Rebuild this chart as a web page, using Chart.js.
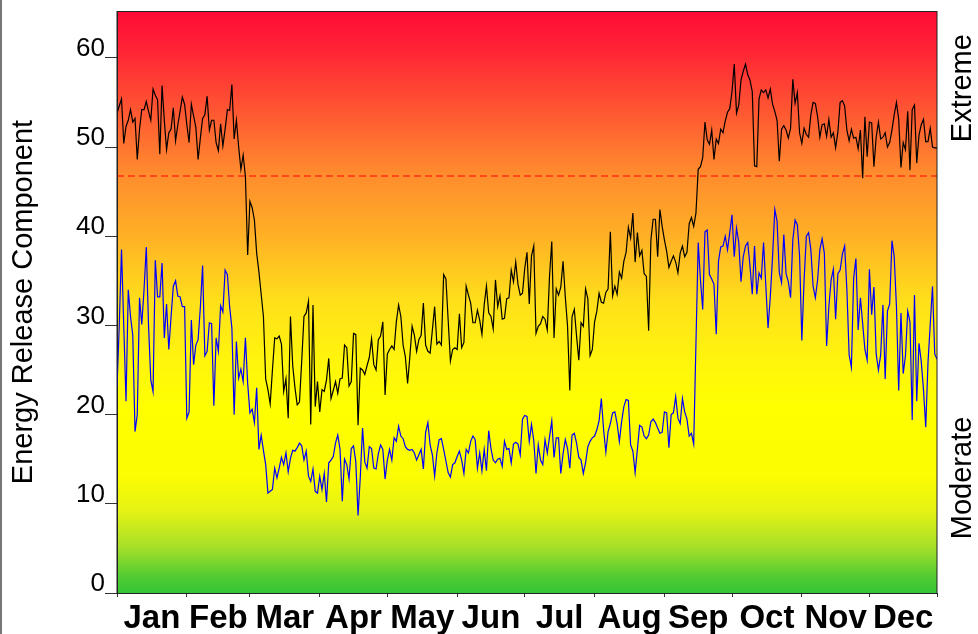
<!DOCTYPE html>
<html>
<head>
<meta charset="utf-8">
<script src="https://cdn.jsdelivr.net/npm/chart.js@4/dist/chart.umd.min.js"></script>
<style>
html,body{margin:0;padding:0;background:#fff;}
canvas{display:block;}
</style>
</head>
<body>
<canvas id="c" width="978" height="634"></canvas>
<script>
// ---------- data ----------
const monthNames = ['Jan','Feb','Mar','Apr','May','Jun','Jul','Aug','Sep','Oct','Nov','Dec'];
const monthStartDays = [0,31,59,90,120,151,181,212,243,273,304,334,364];
const yTickValues = [0,10,20,30,40,50,60];
const extremeThreshold = 46.75;
const zoneLabels = ['Extreme','Moderate'];
const zoneLabelValues = [56.6, 12.9];

// black line (daily ERC, day 0 = Jan 1)
const ercBlack = [
53.8,54.6,55.4,50.4,52.3,53.0,54.2,52.8,53.2,48.6,
52.0,54.2,54.2,55.1,54.0,53.0,56.5,55.8,55.3,49.2,
56.9,53.0,49.7,51.6,52.0,54.4,50.7,52.5,54.0,55.6,
54.8,52.5,50.5,54.8,53.5,52.2,48.6,51.0,53.2,53.6,
55.7,51.9,53.0,53.0,50.5,49.6,52.6,50.1,52.0,54.2,
54.1,57.0,50.9,53.0,50.0,47.5,49.1,46.7,37.9,43.9,
43.2,41.8,38.1,36.0,33.5,31.0,24.0,22.8,21.2,25.0,
28.6,28.5,28.8,27.9,22.6,24.0,19.6,31.0,25.5,23.0,
21.1,21.4,26.0,31.0,31.4,32.7,18.9,32.3,20.9,23.7,
20.3,22.8,22.6,23.9,26.3,21.8,22.7,23.7,22.4,24.0,
24.1,27.8,27.5,23.2,23.7,29.1,29.0,18.8,25.2,25.0,
24.5,25.5,26.4,28.5,25.6,25.0,28.4,28.8,30.4,22.2,
26.8,27.3,27.7,27.3,30.4,32.3,31.0,27.8,26.5,23.5,
26.5,29.9,28.9,27.1,28.4,28.9,32.5,27.8,27.1,26.9,
29.5,32.1,27.9,28.2,27.8,35.7,35.2,30.6,26.0,27.3,
27.5,27.3,31.3,27.5,28.1,34.4,33.4,32.5,30.3,30.3,
31.7,30.6,29.0,32.3,34.4,31.4,31.0,29.6,35.1,32.1,
33.3,30.7,30.8,33.0,33.1,36.2,34.9,37.1,34.6,33.4,
33.6,36.4,38.2,32.4,37.8,38.9,29.1,29.9,30.2,31.0,
30.7,29.5,35.5,39.4,28.6,34.1,33.4,34.3,37.2,33.2,
29.9,22.7,31.0,31.8,28.8,26.1,30.3,29.9,34.1,33.0,
26.6,27.3,30.4,31.6,33.6,32.6,32.5,33.7,34.1,40.5,
33.3,34.4,33.5,36.0,35.3,37.2,38.2,41.0,39.8,42.6,
37.1,40.4,37.8,38.4,35.8,35.5,29.4,39.6,41.9,41.9,
37.7,43.0,41.1,39.6,38.3,36.5,37.2,37.8,37.1,35.9,
38.1,38.9,37.7,38.2,41.4,42.1,41.1,42.6,47.5,47.8,
48.8,52.8,50.8,50.3,51.9,48.6,50.9,50.4,52.0,51.6,
52.9,53.9,54.3,56.2,59.3,53.8,54.7,57.5,58.5,59.3,
58.1,57.5,56.2,47.9,47.8,55.4,56.4,56.1,56.4,55.5,
56.5,54.8,54.0,53.0,48.4,52.0,52.4,51.9,51.0,52.1,
57.6,54.9,56.1,51.6,50.4,52.1,51.4,51.1,53.6,55.0,
54.9,53.4,51.1,52.5,52.6,51.2,53.1,51.1,51.6,49.9,
51.7,55.0,55.2,54.6,51.9,50.7,52.0,51.0,51.1,49.8,
51.9,46.5,53.4,48.9,52.8,52.7,47.8,51.1,52.8,50.9,
51.1,51.6,50.0,50.5,51.9,53.6,55.0,53.1,47.7,50.5,
49.7,54.0,47.4,54.2,54.7,48.2,51.3,52.5,53.1,50.6,
50.6,52.1,50.0,49.9,49.9
];

// blue line (daily ERC, day 0 = Jan 1)
const ercBlue = [
23.1,30.0,38.5,30.0,21.5,34.0,31.0,28.9,18.1,20.0,
33.1,30.1,34.0,38.8,30.0,23.9,22.6,37.3,33.2,33.2,
37.0,28.6,32.4,27.3,31.0,34.4,35.0,33.3,33.2,32.1,
32.1,19.6,20.3,30.6,25.6,27.8,28.4,32.0,36.7,26.6,
27.1,30.3,30.2,21.0,28.6,27.1,32.2,31.5,36.2,35.7,
32.1,29.7,20.0,28.2,24.1,25.1,23.7,28.6,23.5,20.2,
20.6,19.1,23.0,16.1,17.7,16.0,14.4,11.2,11.4,11.6,
14.0,12.9,14.0,15.2,14.4,15.7,13.6,15.1,16.0,15.9,
16.3,16.8,16.5,14.9,15.9,13.1,12.5,13.9,11.4,11.2,
13.1,11.6,13.4,10.2,14.6,14.9,15.3,16.8,17.7,16.1,
10.3,15.0,14.4,12.8,16.2,16.5,14.7,8.7,13.0,18.5,
14.7,14.0,16.4,16.2,14.0,13.9,15.6,16.6,16.1,12.8,
14.9,16.1,14.9,17.4,17.0,18.7,17.6,17.3,16.4,16.1,
16.0,16.1,15.7,14.9,15.5,16.1,13.9,18.0,19.1,16.6,
15.5,13.1,15.7,17.2,17.3,16.1,14.8,13.5,13.0,14.4,
14.6,15.3,15.9,14.9,13.4,16.1,15.7,17.0,17.6,17.2,
14.0,15.7,13.7,16.1,13.7,18.2,16.2,14.9,14.6,15.0,
15.1,14.2,17.0,16.1,16.2,14.6,16.7,16.9,16.7,15.5,
19.5,19.9,19.8,17.0,18.9,17.1,13.4,16.6,14.9,14.4,
17.2,15.7,17.5,19.3,15.2,17.4,17.4,13.4,15.6,17.2,
16.2,14.0,17.7,17.9,16.8,15.2,14.9,13.4,14.6,16.4,
17.0,17.4,17.6,18.3,19.3,21.8,18.3,15.8,18.1,19.0,
20.2,20.3,19.0,17.0,19.2,20.9,21.7,21.6,16.6,15.9,
13.5,16.1,18.8,18.6,17.6,17.3,17.7,19.2,19.5,19.1,
18.5,17.9,18.0,20.3,20.2,16.3,20.0,20.2,22.0,19.6,
19.0,21.8,20.3,19.5,17.6,17.9,16.7,28.0,39.3,35.1,
31.8,40.5,40.7,35.7,35.2,34.6,29.0,37.2,38.8,38.9,
40.0,38.5,40.4,42.4,37.7,40.9,39.3,34.9,37.7,38.9,
39.3,36.6,33.5,38.9,33.5,35.9,35.3,39.3,34.5,29.7,
33.2,37.7,43.0,41.7,35.9,34.8,40.2,35.8,34.9,33.1,
39.6,41.8,41.3,37.8,28.3,35.1,40.0,40.4,38.5,34.4,
33.1,35.1,38.5,39.7,38.1,27.7,32.1,35.1,36.3,30.7,
35.8,36.2,38.0,38.9,34.0,26.7,25.3,35.3,37.5,29.5,
33.1,30.2,27.3,26.1,36.3,31.2,34.3,26.8,25.0,26.7,
32.3,24.0,31.6,32.4,39.5,37.7,32.1,22.7,31.4,24.6,
26.6,31.6,30.4,19.4,33.4,21.5,28.0,26.0,22.8,18.6,
25.8,30.1,34.4,26.8,26.2
];

// ---------- chart ----------
const FONT = "'Liberation Sans', Arial, Helvetica, sans-serif";
Chart.defaults.font.family = FONT;

const toPoints = arr => arr.map((v, i) => ({x: i, y: v}));

function buildXTicks() {
  const t = [];
  for (let m = 0; m < 12; m++) {
    t.push({value: monthStartDays[m], edge: true});
    t.push({value: (monthStartDays[m] + monthStartDays[m + 1]) / 2, name: monthNames[m]});
  }
  t.push({value: monthStartDays[12], edge: true});
  return t;
}

const decorPlugin = {
  id: 'decor',
  beforeDraw(chart) {
    const {ctx, chartArea: a} = chart;
    const g = ctx.createLinearGradient(0, a.top, 0, a.bottom);
    g.addColorStop(0.00, '#FF0A35');
    g.addColorStop(0.07, '#FF2535');
    g.addColorStop(0.15, '#FF4C33');
    g.addColorStop(0.28, '#FF8C2E');
    g.addColorStop(0.38, '#FFAE26');
    g.addColorStop(0.50, '#FFE01A');
    g.addColorStop(0.60, '#FFF50C');
    g.addColorStop(0.68, '#FFFF00');
    g.addColorStop(0.80, '#FCFC02');
    g.addColorStop(0.86, '#E4F215');
    g.addColorStop(0.92, '#A8E028');
    g.addColorStop(0.97, '#55CC33');
    g.addColorStop(1.00, '#33C535');
    ctx.save();
    ctx.fillStyle = g;
    ctx.fillRect(a.left, a.top, a.right - a.left, a.bottom - a.top);
    ctx.restore();
  },
  afterDraw(chart) {
    const {ctx, chartArea: a} = chart;
    const ys = chart.scales.y;
    ctx.save();
    ctx.strokeStyle = '#222';
    ctx.lineWidth = 1;
    ctx.strokeRect(a.left, a.top + 0.5, a.right - a.left, a.bottom - a.top);
    ctx.fillStyle = '#777';
    ctx.fillRect(0, 0, 2, chart.height);
    ctx.fillStyle = '#000';
    ctx.font = '29px ' + FONT;
    ctx.textAlign = 'center';
    ctx.textBaseline = 'middle';
    zoneLabels.forEach((txt, i) => {
      ctx.save();
      ctx.translate(a.right + 26, ys.getPixelForValue(zoneLabelValues[i]));
      ctx.rotate(-Math.PI / 2);
      ctx.fillText(txt, 0, 0);
      ctx.restore();
    });
    ctx.restore();
  }
};

new Chart(document.getElementById('c'), {
  type: 'line',
  data: {
    datasets: [
      {data: toPoints(ercBlack), borderColor: '#000000', borderWidth: 1.2, pointRadius: 0, tension: 0, fill: false},
      {data: toPoints(ercBlue), borderColor: '#0000FF', borderWidth: 1.2, pointRadius: 0, tension: 0, fill: false},
      {data: [{x: 0, y: extremeThreshold}, {x: monthStartDays[12], y: extremeThreshold}],
       borderColor: '#FF0000', borderWidth: 1, borderDash: [7, 4], pointRadius: 0, fill: false}
    ]
  },
  options: {
    responsive: false,
    devicePixelRatio: 1,
    animation: false,
    layout: {padding: {top: 11, right: 41, left: 0, bottom: 0}},
    plugins: {legend: {display: false}, tooltip: {enabled: false}},
    scales: {
      x: {
        type: 'linear',
        min: 0,
        max: monthStartDays[12],
        afterBuildTicks: s => { s.ticks = buildXTicks(); },
        afterFit: s => { s.height = 41; s.paddingLeft = 0; s.paddingRight = 0; },
        grid: {
          drawOnChartArea: false, drawTicks: true, tickLength: 4,
          tickColor: c => (c.tick && c.tick.edge) ? '#333' : 'rgba(0,0,0,0)'
        },
        border: {display: true, color: '#222'},
        ticks: {
          autoSkip: false, maxRotation: 0, minRotation: 0, padding: 5, color: '#000',
          font: {family: FONT, size: 33, weight: 'bold', lineHeight: 1},
          callback: (v, i, ticks) => ticks[i].name || ''
        }
      },
      y: {
        min: 0,
        max: 65.25,
        afterBuildTicks: s => { s.ticks = yTickValues.map(v => ({value: v})); },
        afterFit: s => { s.width = 117; s.paddingTop = 0; s.paddingBottom = 0; },
        grid: {drawOnChartArea: false, drawTicks: true, tickLength: 12, tickColor: '#333'},
        border: {display: true, color: '#222'},
        ticks: {padding: 0, labelOffset: -9, color: '#000', font: {family: FONT, size: 26}},
        title: {
          display: true, text: 'Energy Release Component', color: '#000',
          font: {family: FONT, size: 29}, padding: {top: 7, bottom: 0}
        }
      }
    }
  },
  plugins: [decorPlugin]
});
</script>
</body>
</html>
